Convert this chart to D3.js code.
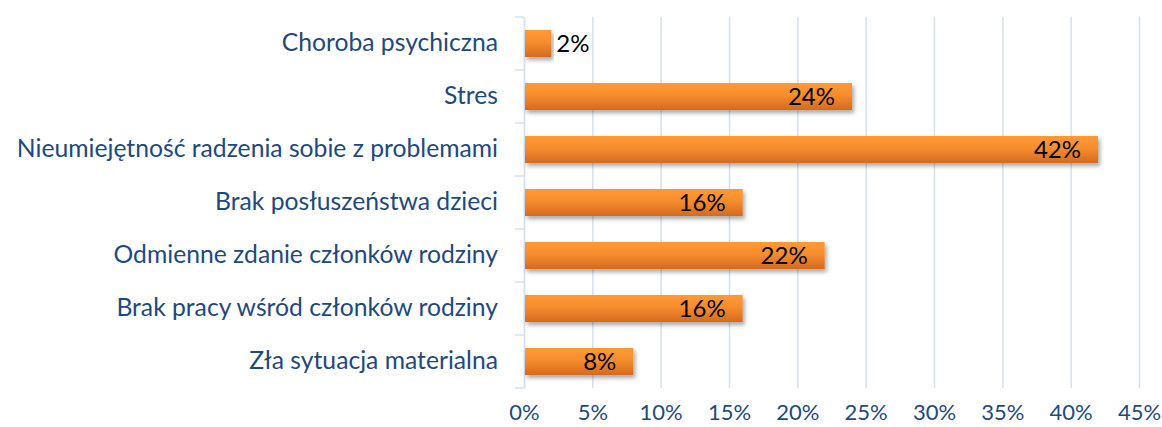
<!DOCTYPE html>
<html>
<head>
<meta charset="utf-8">
<script src="https://cdn.jsdelivr.net/npm/d3@7"></script>
<style>
    body { margin: 0; background: #fff; }
    text { font-family: Lato, 'Open Sans', sans-serif; }
</style>
</head>
<body>
<svg id="chart" width="1162" height="427"></svg>
<script>
const categories = [
    'Choroba psychiczna',
    'Stres',
    'Nieumiejętność radzenia sobie z problemami',
    'Brak posłuszeństwa dzieci',
    'Odmienne zdanie członków rodziny',
    'Brak pracy wśród członków rodziny',
    'Zła sytuacja materialna',
];
const values = [2, 24, 42, 16, 22, 16, 8];
const xTicks = [0, 5, 10, 15, 20, 25, 30, 35, 40, 45];

const margin = { top: 17, right: 23, bottom: 39, left: 524 };
const width = 1162;
const height = 427;

const svg = d3.select('#chart');

// gradient + shadow for the bars
const defs = svg.append('defs');
const grad = defs.append('linearGradient')
    .attr('id', 'barGrad')
    .attr('x1', 0).attr('y1', 0).attr('x2', 0).attr('y2', 1);
grad.append('stop').attr('offset', '0%').attr('stop-color', '#ff9a33');
grad.append('stop').attr('offset', '45%').attr('stop-color', '#f68d2e');
grad.append('stop').attr('offset', '100%').attr('stop-color', '#d5691f');
const shadow = defs.append('filter').attr('id', 'shadow')
    .attr('x', '-5%').attr('y', '-30%').attr('width', '115%').attr('height', '170%');
shadow.append('feDropShadow')
    .attr('dx', 2).attr('dy', 3).attr('stdDeviation', 2)
    .attr('flood-color', '#000').attr('flood-opacity', 0.35);

const xScale = d3.scaleLinear()
    .domain([0, 45])
    .range([margin.left, width - margin.right]);

const yScale = d3.scaleBand()
    .domain(categories)
    .range([margin.top, height - margin.bottom])
    .paddingInner(0.49)
    .paddingOuter(0.245);

const gridColor = '#d6e1ef';
const labelColor = '#1f497d';

// vertical grid lines + bottom labels
const xAxis = d3.axisBottom(xScale)
    .tickValues(xTicks)
    .tickSize(-(height - margin.bottom - margin.top))
    .tickFormat((d) => `${d}%`);
const xAxisGroup = svg.append('g')
    .attr('transform', `translate(0, ${height - margin.bottom})`)
    .call(xAxis);
xAxisGroup.select('.domain').remove();
xAxisGroup.selectAll('line').attr('stroke', gridColor).attr('stroke-width', 1.5);
xAxisGroup.selectAll('text')
    .attr('fill', labelColor)
    .attr('font-size', '22px')
    .attr('dy', 0)
    .attr('y', 32);

// category axis
const yAxis = d3.axisLeft(yScale).tickSize(0).tickPadding(26);
const yAxisGroup = svg.append('g')
    .attr('transform', `translate(${margin.left}, 0)`)
    .call(yAxis);
yAxisGroup.select('.domain')
    .attr('stroke', gridColor).attr('stroke-width', 1.5);
yAxisGroup.selectAll('text')
    .attr('fill', labelColor)
    .attr('font-size', '24.7px');

// tick marks between categories
const step = yScale.step();
const bounds = d3.range(categories.length + 1)
    .map((i) => margin.top + i * step);
svg.append('g').selectAll('line')
    .data(bounds)
    .join('line')
    .attr('x1', margin.left - 9)
    .attr('x2', margin.left)
    .attr('y1', (d) => d)
    .attr('y2', (d) => d)
    .attr('stroke', gridColor)
    .attr('stroke-width', 1.5);

// bars
svg.append('g').selectAll('rect')
    .data(values)
    .join('rect')
    .attr('x', xScale(0) + 1)
    .attr('y', (d, i) => yScale(categories[i]))
    .attr('width', (d) => xScale(d) - xScale(0) - 1)
    .attr('height', yScale.bandwidth())
    .attr('fill', 'url(#barGrad)')
    .attr('filter', 'url(#shadow)');

// value labels
svg.append('g').selectAll('text')
    .data(values)
    .join('text')
    .attr('x', (d) => (d < 5 ? xScale(d) + 5 : xScale(d) - 17))
    .attr('y', (d, i) => yScale(categories[i]) + yScale.bandwidth() / 2)
    .attr('dy', '0.36em')
    .attr('text-anchor', (d) => (d < 5 ? 'start' : 'end'))
    .attr('fill', '#000')
    .attr('font-size', '24px')
    .text((d) => `${d}%`);
</script>
</body>
</html>
